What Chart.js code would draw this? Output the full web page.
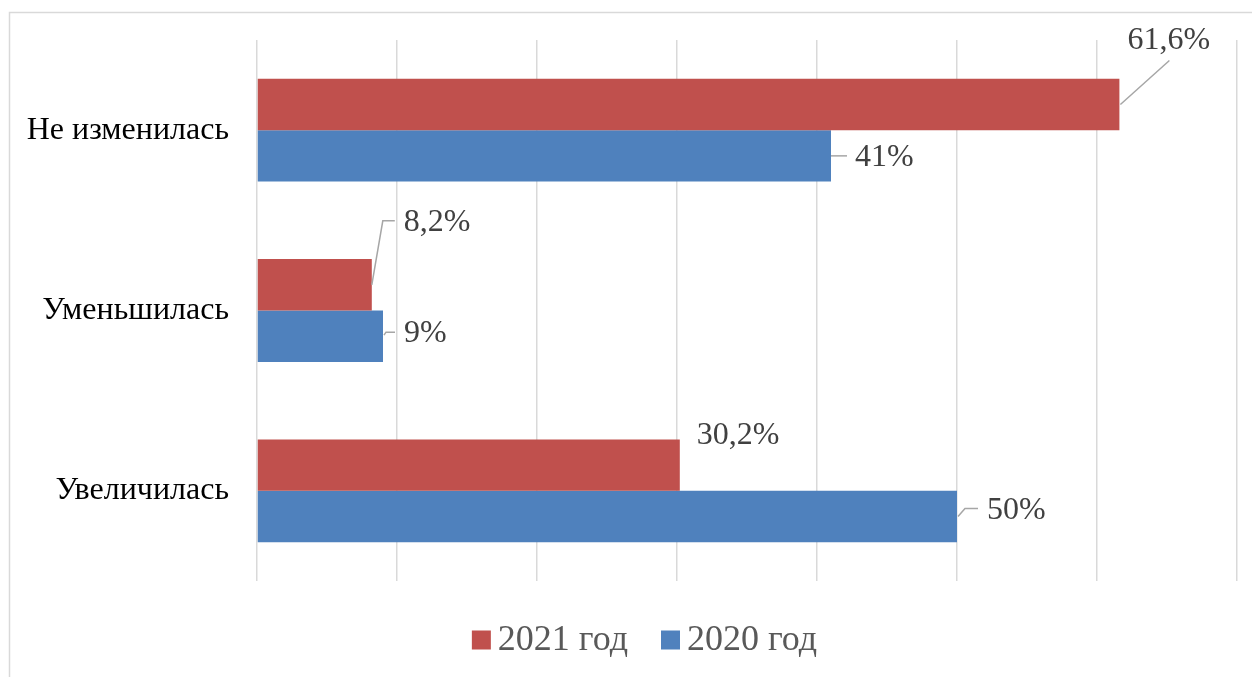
<!DOCTYPE html>
<html>
<head>
<meta charset="utf-8">
<script src="https://cdn.jsdelivr.net/npm/chart.js@4"></script>
<style>
  html, body { margin: 0; padding: 0; background: #fff; }
  #wrap { width: 1252px; height: 677px; position: relative; }
</style>
</head>
<body>
<div id="wrap"><canvas id="BarChartChange"></canvas></div>
<script>
const categories = ['Не изменилась', 'Уменьшилась', 'Увеличилась'];
const seriesNames = ['2021 год', '2020 год'];
const values2021 = [61.6, 8.2, 30.2];
const values2020 = [41, 9, 50];

const colors = ['#C0504D', '#4F81BD'];
const fontFamily = '"Liberation Serif", "Times New Roman", serif';

// label placement relative to bar end (x) and bar centre (y), with leader lines
const labelPlacement = [
    [
        { dx: 8, dy: -64, leader: [[1, 0], [50, -44]] },
        { dx: 32, dy: -62, leader: [[0, 0], [11, -64], [23, -64]] },
        { dx: 17, dy: -30, leader: [] }
    ],
    [
        { dx: 24, dy: 2, leader: [[0, 0], [16, 0]] },
        { dx: 21, dy: -3, leader: [[1, -1], [3, -4], [12, -4]] },
        { dx: 30, dy: -6, leader: [[1, 0], [8, -8], [21, -8]] }
    ]
];

function fmt(v) {
    return String(v).replace('.', ',') + '%';
}

const labelPlugin = {
    id: 'barLabels',
    afterDatasetsDraw(chart) {
        const ctx = chart.ctx;
        ctx.save();
        chart.data.datasets.forEach((ds, di) => {
            const meta = chart.getDatasetMeta(di);
            meta.data.forEach((bar, i) => {
                const p = labelPlacement[di][i];
                const x0 = bar.x, y0 = bar.y;
                if (p.leader.length > 1) {
                    ctx.beginPath();
                    ctx.strokeStyle = '#a6a6a6';
                    ctx.lineWidth = 1.5;
                    p.leader.forEach((pt, k) => {
                        if (k === 0) ctx.moveTo(x0 + pt[0], y0 + pt[1]);
                        else ctx.lineTo(x0 + pt[0], y0 + pt[1]);
                    });
                    ctx.stroke();
                }
                ctx.fillStyle = '#404040';
                ctx.font = '32px ' + fontFamily;
                ctx.textAlign = 'left';
                ctx.textBaseline = 'middle';
                ctx.fillText(fmt(ds.data[i]), x0 + p.dx, y0 + p.dy);
            });
        });
        ctx.restore();
    }
};

const framePlugin = {
    id: 'frameAndLegend',
    afterDraw(chart) {
        const ctx = chart.ctx;
        ctx.save();
        // outer frame
        ctx.strokeStyle = '#d9d9d9';
        ctx.lineWidth = 1.5;
        ctx.strokeRect(9.5, 12.5, 1300, 700);

        // legend
        ctx.font = '36px ' + fontFamily;
        ctx.textBaseline = 'middle';
        ctx.textAlign = 'left';
        const box = 19, gapText = 7, gapItem = 33;
        const items = chart.data.datasets.map(ds => ({
            text: ds.label, color: ds.backgroundColor, w: ctx.measureText(ds.label).width
        }));
        let total = 0;
        items.forEach((it, k) => { total += box + gapText + it.w + (k > 0 ? gapItem : 0); });
        let x = 644.5 - total / 2;
        const cy = 640;
        items.forEach(it => {
            ctx.fillStyle = it.color;
            ctx.fillRect(x, cy - box / 2, box, box);
            ctx.fillStyle = '#595959';
            ctx.fillText(it.text, x + box + gapText, cy + 1);
            x += box + gapText + it.w + gapItem;
        });
        ctx.restore();
    }
};

const ctx = document.getElementById('BarChartChange').getContext('2d');
new Chart(ctx, {
    type: 'bar',
    data: {
        labels: categories,
        datasets: [
            { label: seriesNames[0], data: values2021, backgroundColor: colors[0] },
            { label: seriesNames[1], data: values2020, backgroundColor: colors[1] }
        ]
    },
    options: {
        indexAxis: 'y',
        responsive: true,
        maintainAspectRatio: false,
        animation: false,
        layout: { padding: { left: 0, right: 15, top: 40, bottom: 96 } },
        datasets: {
            bar: { barPercentage: 1, categoryPercentage: 0.57 }
        },
        scales: {
            x: {
                min: 0,
                max: 70,
                ticks: { display: false, stepSize: 10 },
                grid: { color: '#d9d9d9', lineWidth: 1.5, drawTicks: false },
                border: { display: false },
                afterFit: scale => { scale.height = 0; }
            },
            y: {
                grid: { display: false, drawTicks: false },
                border: { display: false },
                ticks: {
                    color: '#000',
                    padding: 28,
                    font: { family: fontFamily, size: 32 }
                },
                afterFit: scale => {
                    scale.width = 257;
                    scale.paddingTop = 0;
                    scale.paddingBottom = 0;
                }
            }
        },
        plugins: {
            legend: { display: false },
            tooltip: { enabled: false }
        }
    },
    plugins: [labelPlugin, framePlugin]
});
</script>
</body>
</html>
